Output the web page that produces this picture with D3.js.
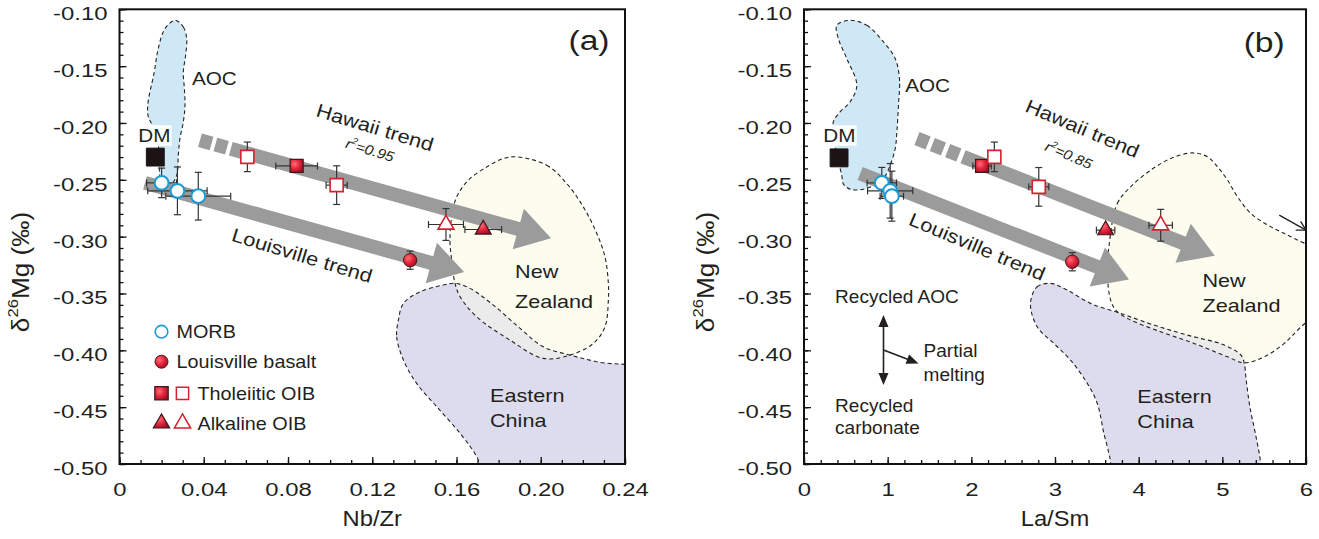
<!DOCTYPE html>
<html><head><meta charset="utf-8">
<script src="https://cdn.jsdelivr.net/npm/d3@7"></script>
<style>body{margin:0;background:#fff}</style></head>
<body><svg id="c" width="1319" height="539"></svg>
<script>
const FONT = "'Liberation Sans', Arial, Helvetica, sans-serif";
const INK = "#231f20";

// ---- tick values / labels ----
const yTickValues = [-0.10,-0.15,-0.20,-0.25,-0.30,-0.35,-0.40,-0.45,-0.50];
const yTickLabels = ["-0.10","-0.15","-0.20","-0.25","-0.30","-0.35","-0.40","-0.45","-0.50"];
const xTickValuesA = [0,0.04,0.08,0.12,0.16,0.20,0.24];
const xTickLabelsA = ["0","0.04","0.08","0.12","0.16","0.20","0.24"];
const xTickValuesB = [0,1,2,3,4,5,6];
const xTickLabelsB = ["0","1","2","3","4","5","6"];

// ---- panel (a): Nb/Zr vs d26Mg  [x, y, xErr, yErr] ----
const dmA = [[0.017,-0.230,0,0]];
const morbA = [[0.020,-0.2527,0.0071,0.013],[0.0275,-0.2597,0.0141,0.021],[0.0374,-0.2644,0.0154,0.021]];
const louisvilleA = [[0.138,-0.3207,0,0.008]];
const tholFilledA = [[0.0841,-0.2378,0.0099,0]];
const tholOpenA = [[0.0607,-0.2298,0,0.013],[0.1031,-0.2547,0.005,0.017]];
const alkFilledA = [[0.1727,-0.2937,0.0087,0]];
const alkOpenA = [[0.155,-0.2893,0.0083,0.014]];
const hawaiiTrendA = [[0.0382,-0.2152],[0.2049,-0.3013]];
const louisvilleTrendA = [[0.0121,-0.2527],[0.1636,-0.3312]];
const aocA = [[0.0264,-0.1097],[0.0303,-0.1156],[0.0319,-0.1258],[0.0314,-0.1404],[0.0303,-0.1551],[0.0308,-0.1697],[0.0311,-0.1844],[0.0303,-0.1991],[0.0287,-0.2137],[0.0279,-0.2284],[0.0272,-0.2459],[0.0240,-0.2547],[0.0200,-0.2518],[0.0188,-0.2371],[0.0184,-0.2196],[0.0160,-0.2035],[0.0137,-0.1947],[0.0134,-0.1844],[0.0165,-0.1551],[0.0184,-0.1345],[0.0216,-0.1170]];
const newZealandA = [[0.1886,-0.2298],[0.2028,-0.2371],[0.2123,-0.2532],[0.2202,-0.2738],[0.2266,-0.2972],[0.2305,-0.3178],[0.2321,-0.3411],[0.2321,-0.3558],[0.2305,-0.3793],[0.2250,-0.3939],[0.2139,-0.4042],[0.2012,-0.4071],[0.1854,-0.3910],[0.1696,-0.3705],[0.1617,-0.3529],[0.1593,-0.3411],[0.1577,-0.3207],[0.1569,-0.3031],[0.1577,-0.2826],[0.1601,-0.2650],[0.1656,-0.2503],[0.1744,-0.2386],[0.1822,-0.2313]];
const easternChinaA = [[0.1324,-0.3734],[0.1316,-0.3881],[0.1348,-0.4086],[0.1411,-0.4291],[0.1506,-0.4496],[0.1617,-0.4730],[0.1696,-0.4936],[0.1745,-0.515],[0.20,-0.54],[0.26,-0.54],[0.26,-0.424],[0.2266,-0.4101],[0.2139,-0.4042],[0.2012,-0.3969],[0.1902,-0.3807],[0.1775,-0.3602],[0.1664,-0.3455],[0.1593,-0.3411],[0.1537,-0.3426],[0.1427,-0.3485],[0.1348,-0.3587]];

// ---- panel (b): La/Sm vs d26Mg ----
const dmB = [[0.419,-0.2307,0,0]];
const morbB = [[0.93,-0.2527,0.176,0.0136],[1.03,-0.2597,0.27,0.024],[1.05,-0.2644,0.14,0.022]];
const louisvilleB = [[3.206,-0.3221,0,0.008]];
const tholFilledB = [[2.128,-0.2378,0.11,0]];
const tholOpenB = [[2.275,-0.2298,0,0.013],[2.806,-0.2562,0.12,0.017]];
const alkFilledB = [[3.605,-0.2943,0.11,0]];
const alkOpenB = [[4.263,-0.290,0.14,0.014]];
const hawaiiTrendB = [[1.350,-0.2137],[4.910,-0.3167]];
const louisvilleTrendB = [[0.671,-0.2444],[3.884,-0.3376]];
const aocB = [[0.551,-0.1097],[0.751,-0.1141],[0.950,-0.1287],[1.090,-0.1433],[1.141,-0.1609],[1.129,-0.1844],[1.110,-0.2079],[1.090,-0.2225],[1.030,-0.2371],[0.950,-0.2488],[0.814,-0.2556],[0.671,-0.2587],[0.551,-0.2582],[0.471,-0.2538],[0.451,-0.2459],[0.407,-0.2327],[0.351,-0.2137],[0.351,-0.1991],[0.431,-0.1903],[0.551,-0.1815],[0.631,-0.1668],[0.511,-0.1433],[0.411,-0.1258],[0.392,-0.1141]];
const newZealandB = [[3.644,-0.3090],[3.745,-0.2708],[3.904,-0.2562],[4.144,-0.2415],[4.383,-0.2313],[4.643,-0.2263],[4.823,-0.2298],[4.942,-0.2386],[5.062,-0.2503],[5.182,-0.2650],[5.341,-0.2796],[5.581,-0.2914],[5.860,-0.3016],[6.30,-0.3207],[6.30,-0.3558],[5.940,-0.3793],[5.740,-0.3939],[5.501,-0.4057],[5.261,-0.4110],[5.062,-0.4057],[4.662,-0.3939],[4.263,-0.3837],[3.865,-0.3719],[3.725,-0.3646],[3.665,-0.3558],[3.625,-0.3323]];
const easternChinaB = [[2.707,-0.3587],[2.787,-0.3441],[2.946,-0.3411],[3.146,-0.3470],[3.425,-0.3587],[3.784,-0.3675],[4.183,-0.3778],[4.583,-0.3866],[5.022,-0.3954],[5.222,-0.4042],[5.261,-0.4110],[5.285,-0.4262],[5.33,-0.45],[5.40,-0.475],[5.46,-0.50],[5.48,-0.53],[3.67,-0.53],[3.665,-0.4994],[3.644,-0.4906],[3.584,-0.4730],[3.505,-0.4466],[3.386,-0.4291],[3.186,-0.4086],[2.986,-0.3939],[2.787,-0.3793]];

const svg = d3.select('#c');
svg.append('rect').attr('width',1319).attr('height',539).attr('fill','#fff');
const defs = svg.append('defs');
const grad = defs.append('radialGradient').attr('id','redGrad').attr('cx','35%').attr('cy','35%').attr('r','70%');
grad.append('stop').attr('offset','0%').attr('stop-color','#ff6b78');
grad.append('stop').attr('offset','55%').attr('stop-color','#e2243a');
grad.append('stop').attr('offset','100%').attr('stop-color','#a50f25');

function txt(g, x, y, s, o={}) {
  const t = g.append('text')
    .attr('transform', `translate(${x},${y}) rotate(${o.rot||0}) scale(${o.sx||1},${o.sy||1})`)
    .attr('font-family', FONT).attr('font-size', o.size||18).attr('fill', INK)
    .attr('text-anchor', o.anchor||'start');
  if (o.italic) t.attr('font-style','italic');
  if (o.central) t.attr('dominant-baseline','central');
  if (s !== null) t.text(s);
  return t;
}

const Y_RANGE = [464, 9.3];

function drawPanel(p) {
  const x = d3.scaleLinear().domain(p.xDomain).range(p.xRange);
  const y = d3.scaleLinear().domain([-0.5,-0.1]).range(Y_RANGE);
  const g = svg.append('g');
  const [L,R] = p.xRange, T = Y_RANGE[1], B = Y_RANGE[0];
  defs.append('clipPath').attr('id','clip'+p.id).append('rect')
    .attr('x',L).attr('y',T).attr('width',R-L).attr('height',B-T);
  const plot = g.append('g').attr('clip-path',`url(#clip${p.id})`);
  const line = d3.line().x(d=>x(d[0])).y(d=>y(d[1])).curve(d3.curveCatmullRomClosed.alpha(0.5));

  // regions
  plot.append('path').attr('d', line(p.ec)).attr('fill','#dddcee');
  plot.append('path').attr('d', line(p.nz)).attr('fill','#fcfcef');
  defs.append('clipPath').attr('id','nz'+p.id).append('path').attr('d', line(p.nz));
  plot.append('g').attr('clip-path',`url(#nz${p.id})`).append('path').attr('d', line(p.ec)).attr('fill','#ebebeb');
  plot.append('path').attr('d', line(p.aoc)).attr('fill','#cfe8f6');
  [p.ec, p.nz, p.aoc].forEach(r => plot.append('path').attr('d', line(r)).attr('fill','none')
    .attr('stroke','#222').attr('stroke-width',1.1).attr('stroke-dasharray','4,3'));

  // trend arrows
  function trend(pts, dash) {
    const x0=x(pts[0][0]), y0=y(pts[0][1]), x1=x(pts[1][0]), y1=y(pts[1][1]);
    const dx=x1-x0, dy=y1-y0, len=Math.hypot(dx,dy), ux=dx/len, uy=dy/len, nx=-uy, ny=ux;
    const HL=34, HW=21;
    const bx=x1-ux*HL, by=y1-uy*HL;
    const ln = plot.append('line').attr('x1',x0).attr('y1',y0).attr('x2',bx+ux).attr('y2',by+uy)
      .attr('stroke','#9b9b9b').attr('stroke-width',14);
    if (dash) ln.attr('stroke-dasharray', dash);
    plot.append('path').attr('d',`M${bx+nx*HW},${by+ny*HW}L${x1},${y1}L${bx-nx*HW},${by-ny*HW}Z`).attr('fill','#9b9b9b');
  }
  trend(p.hawaii, p.hawaiiDash);
  trend(p.louis, null);

  // markers
  const eb = g.append('g').attr('stroke','#333').attr('stroke-width',1.2);
  function errorBars(data) {
    data.forEach(d => {
      const cx=x(d[0]), cy=y(d[1]);
      if (d[2]) {
        const a=x(d[0]-d[2]), b=x(d[0]+d[2]);
        eb.append('line').attr('x1',a).attr('x2',b).attr('y1',cy).attr('y2',cy);
        eb.append('line').attr('x1',a).attr('x2',a).attr('y1',cy-3.5).attr('y2',cy+3.5);
        eb.append('line').attr('x1',b).attr('x2',b).attr('y1',cy-3.5).attr('y2',cy+3.5);
      }
      if (d[3]) {
        const a=y(d[1]-d[3]), b=y(d[1]+d[3]);
        eb.append('line').attr('y1',a).attr('y2',b).attr('x1',cx).attr('x2',cx);
        eb.append('line').attr('y1',a).attr('y2',a).attr('x1',cx-3.5).attr('x2',cx+3.5);
        eb.append('line').attr('y1',b).attr('y2',b).attr('x1',cx-3.5).attr('x2',cx+3.5);
      }
    });
  }
  const sets = [
    [p.morb, d3.symbolCircle, 150, '#fff', '#1b9ad6', 2],
    [p.dm, d3.symbolSquare, 320, '#1c1414', '#1c1414', 1],
    [p.louisville, d3.symbolCircle, 140, 'url(#redGrad)', '#4a1a1a', 1],
    [p.tholFilled, d3.symbolSquare, 170, 'url(#redGrad)', '#3a1a1a', 1.2],
    [p.tholOpen, d3.symbolSquare, 170, '#fff', '#d4202f', 1.6],
    [p.alkFilled, d3.symbolTriangle, 110, 'url(#redGrad)', '#3a1a1a', 1.2],
    [p.alkOpen, d3.symbolTriangle, 110, '#fff', '#d4202f', 1.6]
  ];
  sets.forEach(s => errorBars(s[0]));
  const mk = g.append('g');
  sets.forEach(([data, type, size, fill, stroke, sw]) => {
    mk.selectAll(null).data(data).join('path')
      .attr('transform', d => `translate(${x(d[0])},${y(d[1])})`)
      .attr('d', d3.symbol(type, size)).attr('fill', fill).attr('stroke', stroke).attr('stroke-width', sw);
  });

  // axes
  const ax = g.append('g');
  const xAxis = d3.axisBottom(x).tickValues(p.xTicks).tickSize(-7).tickPadding(19)
    .tickFormat((d,i) => p.xLabels[i]);
  const xMinorAxis = d3.axisBottom(x).tickValues(p.xMinor).tickSize(-4).tickFormat('');
  const yAxis = d3.axisLeft(y).tickValues(yTickValues).tickSize(-7).tickPadding(9.5)
    .tickFormat((d,i) => yTickLabels[i]);
  const yMinorAxis = d3.axisLeft(y).tickValues(d3.range(0,41).map(i => -0.5 + i*0.01)).tickSize(-4).tickFormat('');
  [[xMinorAxis,'x'],[xAxis,'x'],[yMinorAxis,'y'],[yAxis,'y']].forEach(([a,t]) => {
    const ag = ax.append('g').attr('transform', t==='x' ? `translate(0,${B})` : `translate(${L},0)`).call(a);
    ag.select('.domain').remove();
    ag.selectAll('line').attr('stroke','#111').attr('stroke-width',1.3);
    ag.selectAll('text').attr('font-family',FONT).attr('font-size',19).attr('fill',INK)
      .attr('transform','scale(1.26,1)');
    if (t==='y') ag.selectAll('text').attr('dy','0.55em');
  });
  g.append('rect').attr('x',L).attr('y',T).attr('width',R-L).attr('height',B-T)
    .attr('fill','none').attr('stroke','#111').attr('stroke-width',2);

  // axis titles
  txt(g, (L+R)/2, 526, p.xTitle, {size:22, sx:1.08, anchor:'middle'});
  const yt = txt(g, p.yTitleX, 272, null, {size:22, rot:-90, sx:1.19, sy:1.1, anchor:'middle', central:true});
  yt.append('tspan').text('δ');
  yt.append('tspan').attr('dy',-7).attr('font-size',14).text('26');
  yt.append('tspan').attr('dy',7).text('Mg (‰)');

  // annotations
  const an = g.append('g');
  txt(an, x(p.panelLab[0]), y(p.panelLab[1]), p.panelLab[2], {size:28, sx:1.2, anchor:'middle'});
  txt(an, x(p.aocLab[0]), y(p.aocLab[1]), 'AOC', {size:18, sx:1.15});
  const dmg = an.append('g').attr('transform',`translate(${x(p.dmLab[0])},${y(p.dmLab[1])}) scale(1.15,1)`);
  const dmt = dmg.append('text').attr('font-family',FONT).attr('font-size',18).attr('fill',INK).text('DM');
  const bb = dmt.node().getBBox();
  dmg.insert('rect','text').attr('x',bb.x-1).attr('y',bb.y).attr('width',bb.width+2).attr('height',bb.height).attr('fill','#fff');
  txt(an, x(p.hawaiiLab[0]), y(p.hawaiiLab[1]), 'Hawaii trend', {size:19, sx:1.15, rot:p.hawaiiLab[2], anchor:'middle', central:true});
  const r2 = txt(an, x(p.r2Lab[0]), y(p.r2Lab[1]), null, {size:14, sx:1.1, rot:p.r2Lab[2], anchor:'middle', central:true, italic:true});
  r2.append('tspan').text('r');
  r2.append('tspan').attr('dy',-5).attr('font-size',9).text('2');
  r2.append('tspan').attr('dy',5).text('=' + p.r2Lab[3]);
  txt(an, x(p.louisLab[0]), y(p.louisLab[1]), 'Louisville trend', {size:19, sx:1.15, rot:p.louisLab[2], anchor:'middle', central:true});
  txt(an, x(p.nzLab[0]), y(p.nzLab[1]), 'New', {size:18, sx:1.2});
  txt(an, x(p.nzLab[0]), y(p.nzLab[2]), 'Zealand', {size:18, sx:1.2});
  txt(an, x(p.ecLab[0]), y(p.ecLab[1]), 'Eastern', {size:18, sx:1.2});
  txt(an, x(p.ecLab[0]), y(p.ecLab[2]), 'China', {size:18, sx:1.2});
  return {x, y, g};
}

const pa = drawPanel({
  id:'a', xDomain:[0,0.24], xRange:[119.5,625], xTicks:xTickValuesA, xLabels:xTickLabelsA,
  xMinor:d3.range(0,25).map(i=>i*0.01), xTitle:'Nb/Zr', yTitleX:20,
  dm:dmA, morb:morbA, louisville:louisvilleA, tholFilled:tholFilledA, tholOpen:tholOpenA,
  alkFilled:alkFilledA, alkOpen:alkOpenA, hawaii:hawaiiTrendA, louis:louisvilleTrendA,
  hawaiiDash:'12,4,12,4,2000', aoc:aocA, nz:newZealandA, ec:easternChinaA,
  panelLab:[0.2229,-0.136,'(a)'], aocLab:[0.0344,-0.1668], dmLab:[0.0089,-0.2167],
  hawaiiLab:[0.1213,-0.2037,17], r2Lab:[0.1189,-0.224,17,'0.95'], louisLab:[0.0867,-0.3163,17],
  nzLab:[0.1878,-0.3367,-0.3631], ecLab:[0.1759,-0.4452,-0.4672]
});

const pb = drawPanel({
  id:'b', xDomain:[0,6], xRange:[804,1306], xTicks:xTickValuesB, xLabels:xTickLabelsB,
  xMinor:d3.range(0,31).map(i=>i*0.2), xTitle:'La/Sm', yTitleX:705,
  dm:dmB, morb:morbB, louisville:louisvilleB, tholFilled:tholFilledB, tholOpen:tholOpenB,
  alkFilled:alkFilledB, alkOpen:alkOpenB, hawaii:hawaiiTrendB, louis:louisvilleTrendB,
  hawaiiDash:'12,4.5,12,4.5,12,4.5,2000', aoc:aocB, nz:newZealandB, ec:easternChinaB,
  panelLab:[5.5,-0.1378,'(b)'], aocLab:[1.21,-0.1727], dmLab:[0.231,-0.2167],
  hawaiiLab:[3.33,-0.2046,23], r2Lab:[3.162,-0.2284,23,'0.85'], louisLab:[2.072,-0.3084,23],
  nzLab:[4.763,-0.3441,-0.3661], ecLab:[3.984,-0.4466,-0.4686]
});

// ---- legend (panel a) ----
{
  const {x, y, g} = pa;
  const lg = g.append('g');
  const lx = x(0) + 42, ty = [331.7, 361.7, 393.3, 423.3];
  lg.append('circle').attr('cx',lx).attr('cy',ty[0]).attr('r',6.3).attr('fill','#fff').attr('stroke','#1b9ad6').attr('stroke-width',1.6);
  txt(lg, lx+15, ty[0]+6.6, 'MORB', {size:18, sx:1.1});
  lg.append('circle').attr('cx',lx).attr('cy',ty[1]).attr('r',6.5).attr('fill','url(#redGrad)').attr('stroke','#4a1a1a');
  txt(lg, lx+15, ty[1]+6.6, 'Louisville basalt', {size:18, sx:1.1});
  lg.append('path').attr('transform',`translate(${lx},${ty[2]})`).attr('d',d3.symbol(d3.symbolSquare,180)()).attr('fill','url(#redGrad)').attr('stroke','#3a1a1a').attr('stroke-width',1.2);
  lg.append('path').attr('transform',`translate(${lx+21},${ty[2]})`).attr('d',d3.symbol(d3.symbolSquare,150)()).attr('fill','#fff').attr('stroke','#d4202f').attr('stroke-width',1.5);
  txt(lg, lx+36, ty[2]+6.6, 'Tholeiitic OIB', {size:18, sx:1.1});
  lg.append('path').attr('transform',`translate(${lx},${ty[3]})`).attr('d',d3.symbol(d3.symbolTriangle,115)()).attr('fill','url(#redGrad)').attr('stroke','#3a1a1a').attr('stroke-width',1.2);
  lg.append('path').attr('transform',`translate(${lx+21},${ty[3]})`).attr('d',d3.symbol(d3.symbolTriangle,115)()).attr('fill','#fff').attr('stroke','#d4202f').attr('stroke-width',1.5);
  txt(lg, lx+36, ty[3]+6.6, 'Alkaline OIB', {size:18, sx:1.1});
}

// ---- process arrows (panel b) ----
{
  const {x, y, g} = pb;
  const ag = g.append('g');
  function arrowLine(x0,y0,x1,y1) {
    const dx=x1-x0, dy=y1-y0, len=Math.hypot(dx,dy), ux=dx/len, uy=dy/len, nx=-uy, ny=ux;
    const HL=12, HW=5;
    ag.append('line').attr('x1',x0).attr('y1',y0).attr('x2',x1-ux*HL*0.8).attr('y2',y1-uy*HL*0.8).attr('stroke',INK).attr('stroke-width',1.6);
    ag.append('path').attr('d',`M${x1},${y1}L${x1-ux*HL+nx*HW},${y1-uy*HL+ny*HW}L${x1-ux*HL-nx*HW},${y1-uy*HL-ny*HW}Z`).attr('fill',INK);
  }
  const ox = x(0.95), oy = y(-0.3998);
  arrowLine(ox, oy, ox, y(-0.369));
  arrowLine(ox, oy, ox, y(-0.4306));
  arrowLine(ox, oy, x(1.369), y(-0.4115));
  txt(ag, x(0.371), y(-0.3587), 'Recycled AOC', {size:18.5, sx:1.03});
  txt(ag, x(1.429), y(-0.406), 'Partial', {size:18.5, sx:1.03});
  txt(ag, x(1.429), y(-0.4268), 'melting', {size:18.5, sx:1.03});
  txt(ag, x(0.371), y(-0.454), 'Recycled', {size:18.5, sx:1.03});
  txt(ag, x(0.371), y(-0.4736), 'carbonate', {size:18.5, sx:1.03});
  // small arrow at upper right
  const sx0=x(5.68), sy0=y(-0.2811), sx1=x(6.0), sy1=y(-0.2943);
  ag.append('line').attr('x1',sx0).attr('y1',sy0).attr('x2',sx1).attr('y2',sy1).attr('stroke',INK).attr('stroke-width',1.3);
  const dx=sx1-sx0, dy=sy1-sy0, len=Math.hypot(dx,dy), ux=dx/len, uy=dy/len, nx=-uy, ny=ux;
  ag.append('path').attr('d',`M${sx1-ux*9+nx*5},${sy1-uy*9+ny*5}L${sx1},${sy1}L${sx1-ux*9-nx*5},${sy1-uy*9-ny*5}`)
    .attr('fill','none').attr('stroke',INK).attr('stroke-width',1.3);
}
</script></body></html>
